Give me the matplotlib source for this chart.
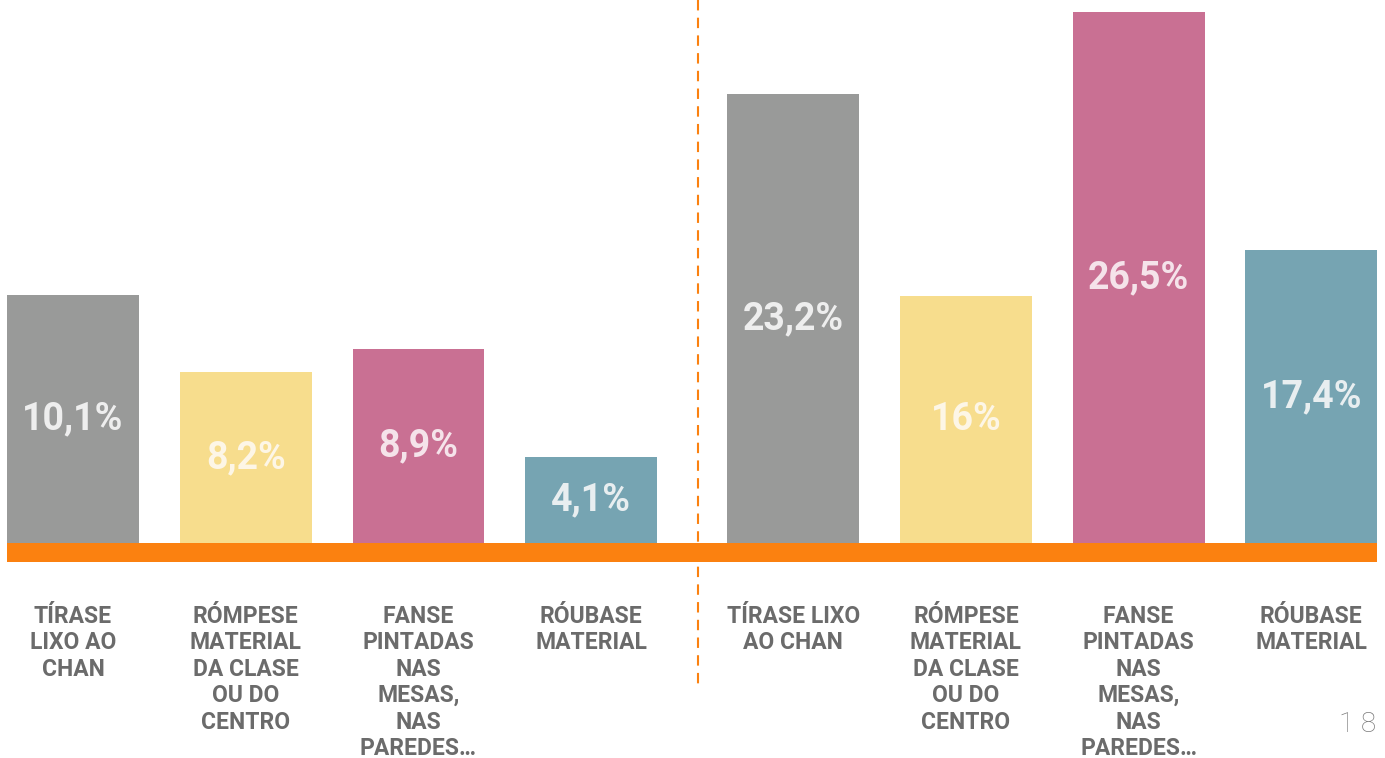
import matplotlib
matplotlib.use("Agg")
import matplotlib.pyplot as plt
from matplotlib.lines import Line2D

## Data
labels_left = ["TÍRASE\nLIXO AO\nCHAN",
               "RÓMPESE\nMATERIAL\nDA CLASE\nOU DO\nCENTRO",
               "FANSE\nPINTADAS\nNAS\nMESAS,\nNAS\nPAREDES…",
               "RÓUBASE\nMATERIAL"]
labels_right = ["TÍRASE LIXO\nAO CHAN",
                "RÓMPESE\nMATERIAL\nDA CLASE\nOU DO\nCENTRO",
                "FANSE\nPINTADAS\nNAS\nMESAS,\nNAS\nPAREDES…",
                "RÓUBASE\nMATERIAL"]
value_text_left = ["10,1%", "8,2%", "8,9%", "4,1%"]
value_text_right = ["23,2%", "16%", "26,5%", "17,4%"]
# bar heights as drawn in the picture (not proportional to the printed values)
heights_left = [248, 171, 194, 86]
heights_right = [449, 247, 531, 293]
page_number = "1 8"

colors = ["#999a99", "#f7dd8d", "#c97093", "#76a4b2"]
text_colors = ["#eeeeee", "#fdf6e6", "#f5e3ea", "#e8eef0"]
orange = "#fb8110"
label_gray = "#6b6b6b"

plt.rcParams['font.family'] = ['Roboto', 'DejaVu Sans']

fig = plt.figure(figsize=(13.85, 7.58), dpi=100)
ax = fig.add_axes([7/1385, (758-562)/758, 1370/1385, 562/758])

pos_left = [0, 1, 2, 3]
pos_right = [p + 4.17 for p in pos_left]
width = 0.763

ax.bar(pos_left, heights_left, width=width, color=colors, zorder=2)
ax.bar(pos_right, heights_right, width=width, color=colors, zorder=2)

# thick orange baseline
ax.axhspan(-19, 0, color=orange, zorder=3, lw=0)

for pos, h, txt, tc in zip(pos_left + pos_right, heights_left + heights_right,
                            value_text_left + value_text_right, text_colors * 2):
    ax.text(pos, h / 2, txt, ha='center', va='center', fontsize=27,
            fontweight='bold', color=tc, zorder=4)

for pos, lab in zip(pos_left + pos_right, labels_left + labels_right):
    ax.text(pos, -62, lab, ha='center', va='top', fontsize=16.5,
            fontweight='bold', color=label_gray, linespacing=1.19)

ax.set_xlim(-0.382, 7.55)
ax.set_ylim(-19, 543)
ax.axis('off')

# dashed divider between the two groups
divider = Line2D([698/1385, 698/1385], [1.0, (758-690)/758], transform=fig.transFigure,
                 color=orange, lw=1.5, linestyle=(0, (5, 3.5)))
fig.add_artist(divider)

fig.text(1358/1385, (758-724)/758, page_number, ha='center', va='center', fontsize=20,
         fontweight='light', color="#7a7a7a")

fig.savefig("out.png", dpi=100)
